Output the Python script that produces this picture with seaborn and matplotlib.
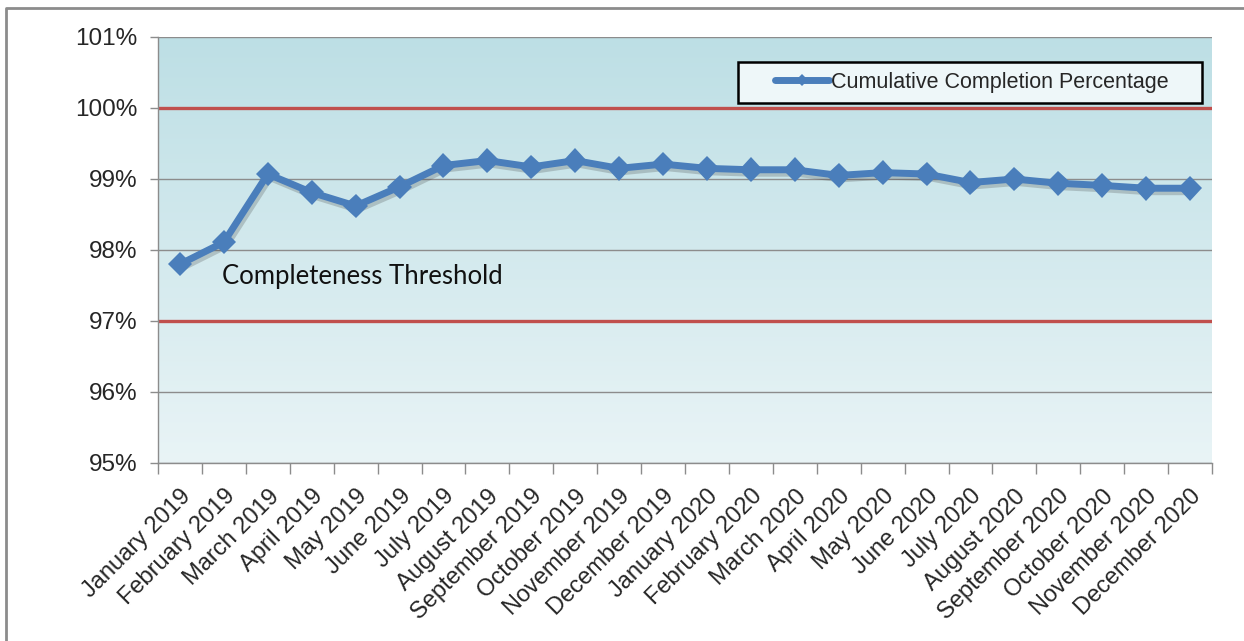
import numpy as np
import pandas as pd
import matplotlib
matplotlib.use('Agg')
import matplotlib.pyplot as plt
import matplotlib.patheffects as pe
from matplotlib.patches import Rectangle
from matplotlib.lines import Line2D
from matplotlib.ticker import FixedLocator, FuncFormatter
import seaborn as sns

months = ['January 2019', 'February 2019', 'March 2019', 'April 2019', 'May 2019', 'June 2019',
          'July 2019', 'August 2019', 'September 2019', 'October 2019', 'November 2019', 'December 2019',
          'January 2020', 'February 2020', 'March 2020', 'April 2020', 'May 2020', 'June 2020',
          'July 2020', 'August 2020', 'September 2020', 'October 2020', 'November 2020', 'December 2020']
completion = [97.80, 98.11, 99.07, 98.81, 98.62, 98.89, 99.19, 99.26, 99.17, 99.26, 99.15, 99.21,
              99.15, 99.13, 99.13, 99.05, 99.09, 99.07, 98.95, 99.00, 98.94, 98.91, 98.87, 98.87]
threshold_lines = [100, 97]
grid_lines = [95, 96, 98, 99, 101]
yticks = [95, 96, 97, 98, 99, 100, 101]

df = pd.DataFrame({'month': months, 'pct': completion})

sns.set_style('white')
plt.rcParams['font.family'] = ['Liberation Sans', 'DejaVu Sans']

fig = plt.figure(figsize=(12.44, 6.41), dpi=100)
ax = fig.add_axes([158/1244, 1-463/641, 1054/1244, 426/641])

# gradient background of plot area
grad = np.linspace(0, 1, 256).reshape(-1, 1)
cmap = matplotlib.colors.LinearSegmentedColormap.from_list('bg', ['#E9F4F6', '#BDDFE5'])
ax.imshow(grad, cmap=cmap, aspect='auto', extent=[0, 1, 0, 1], origin='lower',
          transform=ax.transAxes, zorder=0)

for g in grid_lines:
    ax.axhline(g, color='#8C8C8C', lw=1, zorder=1)
for t in threshold_lines:
    ax.axhline(t, color='#C0504D', lw=2.4, zorder=2)

sns.lineplot(data=df, x='month', y='pct', sort=False, ax=ax, color='#4A7EBB', lw=5,
             marker='D', markersize=12.5, markeredgewidth=0, legend=False, zorder=4,
             path_effects=[pe.SimpleLineShadow(offset=(1.5, -2.5), alpha=0.22, shadow_color='#333333'),
                           pe.Normal()])

ax.set_xlim(-0.5, len(months) - 0.5)
ax.set_ylim(95, 101)
ax.set_yticks(yticks)
ax.yaxis.set_major_formatter(FuncFormatter(lambda v, p: f'{v:.0f}%'))
ax.xaxis.set_minor_locator(FixedLocator(np.arange(-0.5, len(months), 1)))
ax.tick_params(axis='x', which='major', length=0, pad=16)
ax.tick_params(axis='x', which='minor', length=8, color='#8C8C8C', width=1, direction='out', bottom=True)
ax.tick_params(axis='y', length=6, color='#8C8C8C', width=1, direction='out', left=True, labelsize=17.5, pad=9)
plt.setp(ax.get_xticklabels(), rotation=45, ha='right', rotation_mode='anchor', fontsize=17)
ax.set_xlabel('')
ax.set_ylabel('')

for s in ['top', 'right']:
    ax.spines[s].set_visible(False)
for s in ['left', 'bottom']:
    ax.spines[s].set_color('#8C8C8C')
    ax.spines[s].set_linewidth(1)

ax.text(0.95, 97.63, 'Completeness Threshold', fontsize=18.5, family=['Lato', 'DejaVu Sans'],
        va='center', ha='left', color='#111111', zorder=5)

# legend box
ax.add_patch(Rectangle(((738-158)/1054, 1-(103-37)/426), 464/1054, 41/426, transform=ax.transAxes,
                       facecolor='#EEF7F9', edgecolor='black', lw=1.8, zorder=5))
handle = Line2D([], [], color='#4A7EBB', lw=5, marker='D', markersize=6, markeredgewidth=0)
leg = ax.legend([handle], ['Cumulative Completion Percentage'], loc='center left',
                bbox_to_anchor=((775-158)/1054, 1-(82.5-37)/426), fontsize=15.5, frameon=False,
                handlelength=2.5, handletextpad=0.1, borderpad=0, borderaxespad=0)
leg.set_zorder(6)

# outer frame of the picture (left and top edges)
fig.add_artist(Line2D([6/1244, 6/1244, 1], [0, 1-8/641, 1-8/641], transform=fig.transFigure,
                      color='#8C8C8C', lw=2))

fig.savefig('out.png', dpi=100)
